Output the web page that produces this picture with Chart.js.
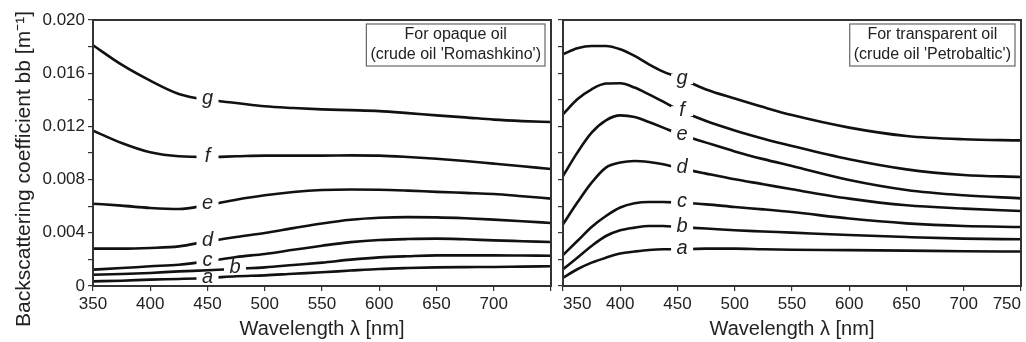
<!DOCTYPE html>
<html>
<head>
<meta charset="utf-8">
<script src="https://cdn.jsdelivr.net/npm/chart.js@4.4.0/dist/chart.umd.min.js"></script>
<style>
  html, body { margin: 0; padding: 0; background: #fff; overflow: hidden; width: 1026px; height: 342px; }
  #left-box { position: absolute; left: 0; top: 0; }
  #right-box { position: absolute; left: 540px; top: 0; }
</style>
</head>
<body>
<div id="left-box"><canvas id="chart-left" width="556" height="342"></canvas></div>
<div id="right-box"><canvas id="chart-right" width="496" height="342"></canvas></div>
<script>
//Curve names (bottom to top)
var curveNames = ['a', 'b', 'c', 'd', 'e', 'f', 'g'];

//Opaque oil - crude oil 'Romashkino'
var wlLeft = [350, 375, 400, 425, 450, 475, 500, 525, 550, 575, 600, 625, 650, 675, 700, 725, 750];
var left_a = [0.00035, 0.0004, 0.00048, 0.00053, 0.0006, 0.00073, 0.0008, 0.00092, 0.00103, 0.00116, 0.00128, 0.00135, 0.0014, 0.00142, 0.00143, 0.00146, 0.00148];
var left_b = [0.00085, 0.0009, 0.00098, 0.0011, 0.00118, 0.0013, 0.0014, 0.00158, 0.00176, 0.00198, 0.00215, 0.00224, 0.0023, 0.0023, 0.0023, 0.00229, 0.00228];
var left_c = [0.00123, 0.00135, 0.00148, 0.0016, 0.00185, 0.00218, 0.00241, 0.00272, 0.00303, 0.0033, 0.00346, 0.00353, 0.00356, 0.00351, 0.00343, 0.00337, 0.00331];
var left_d = [0.00281, 0.00281, 0.00286, 0.00298, 0.00336, 0.00369, 0.00399, 0.00435, 0.0047, 0.00498, 0.00513, 0.00518, 0.00516, 0.00509, 0.00499, 0.00487, 0.00474];
var left_e = [0.00619, 0.00604, 0.00587, 0.00579, 0.0061, 0.00649, 0.00682, 0.00707, 0.00722, 0.00726, 0.00724, 0.00717, 0.00708, 0.007, 0.00692, 0.00675, 0.00657];
var left_f = [0.01168, 0.01075, 0.01005, 0.00975, 0.0097, 0.00975, 0.0098, 0.0098, 0.0098, 0.00982, 0.0098, 0.0097, 0.00957, 0.0094, 0.0092, 0.009, 0.0088];
var left_g = [0.0181, 0.01664, 0.01544, 0.01444, 0.0140, 0.01376, 0.01351, 0.01338, 0.01328, 0.01322, 0.01315, 0.0130, 0.01283, 0.01268, 0.01251, 0.0124, 0.01233];
//Wavelength where each curve letter sits
var leftTagAt = [450, 474, 450, 450, 450, 450, 450];

//Transparent oil - crude oil 'Petrobaltic'
var wlRight = [350, 362.5, 375, 387.5, 400, 412.5, 425, 437.5, 450, 475, 500, 525, 550, 600, 650, 700, 750];
var right_a = [0.00063, 0.00126, 0.00176, 0.00213, 0.00244, 0.00259, 0.00271, 0.00276, 0.00276, 0.00281, 0.00281, 0.00276, 0.00273, 0.0027, 0.00266, 0.00261, 0.00259];
var right_b = [0.00126, 0.00213, 0.00301, 0.00376, 0.00419, 0.00439, 0.00451, 0.00451, 0.00444, 0.00432, 0.00419, 0.0041, 0.00401, 0.00383, 0.00368, 0.00356, 0.00351];
var right_c = [0.00233, 0.00338, 0.00444, 0.00526, 0.0059, 0.00622, 0.00632, 0.00632, 0.00627, 0.00614, 0.00594, 0.00576, 0.00556, 0.00507, 0.00471, 0.00451, 0.00444];
var right_d = [0.00464, 0.00627, 0.00777, 0.0089, 0.00928, 0.0094, 0.00932, 0.00915, 0.0089, 0.00845, 0.00802, 0.00765, 0.00727, 0.00657, 0.00607, 0.00582, 0.00564];
var right_e = [0.00827, 0.01003, 0.01153, 0.01246, 0.01283, 0.01271, 0.01233, 0.01191, 0.01146, 0.01078, 0.01012, 0.00954, 0.00902, 0.00797, 0.00722, 0.00682, 0.00659];
var right_f = [0.01291, 0.01404, 0.01479, 0.01522, 0.01524, 0.01492, 0.01441, 0.01386, 0.01329, 0.01241, 0.0117, 0.01108, 0.01053, 0.00953, 0.00877, 0.00835, 0.0082];
var right_g = [0.01742, 0.01787, 0.01805, 0.01805, 0.0178, 0.0173, 0.01667, 0.01612, 0.01571, 0.01478, 0.0141, 0.01345, 0.01285, 0.01191, 0.01128, 0.01103, 0.01095];
var rightTagAt = [454, 454, 454, 454, 454, 454, 454];

//Axis text
var xTitle = 'Wavelength \u03bb [nm]';
var yTitle = 'Backscattering coefficient bb [m\u207b\u00b9]';
var leftNote = ['For opaque oil', "(crude oil 'Romashkino')"];
var rightNote = ['For transparent oil', "(crude oil 'Petrobaltic')"];

var FONT = "'Liberation Sans', Arial, sans-serif";
var INK = '#222';

function makeSets(wl, series) {
  return series.map(function(vals, i) {
    return {
      label: curveNames[i],
      data: wl.map(function(x, k) { return {x: x, y: vals[k]}; }),
      borderColor: '#111',
      borderWidth: 2.6,
      pointRadius: 0,
      fill: false,
      cubicInterpolationMode: 'monotone'
    };
  });
}

//Frame round the plot area
var framePlugin = {
  id: 'frame',
  afterDraw: function(chart) {
    var a = chart.chartArea;
    var ctx = chart.ctx;
    ctx.save();
    ctx.strokeStyle = '#333';
    ctx.lineWidth = 2;
    ctx.strokeRect(a.left, a.top, a.right - a.left, a.bottom - a.top);
    ctx.restore();
  }
};

//Note box in the top right corner
var notePlugin = {
  id: 'noteBox',
  afterDraw: function(chart, args, opts) {
    var ctx = chart.ctx;
    var a = chart.chartArea;
    ctx.save();
    ctx.font = '16px ' + FONT;
    var w = 0;
    opts.lines.forEach(function(t) { w = Math.max(w, ctx.measureText(t).width); });
    w += 8;
    var h = 42;
    var x0 = a.right - 6 - w;
    var y0 = a.top + 4;
    ctx.fillStyle = '#fff';
    ctx.fillRect(x0, y0, w, h);
    ctx.strokeStyle = '#666';
    ctx.lineWidth = 1.2;
    ctx.strokeRect(x0, y0, w, h);
    ctx.fillStyle = INK;
    ctx.textAlign = 'center';
    ctx.textBaseline = 'middle';
    opts.lines.forEach(function(t, i) {
      ctx.fillText(t, x0 + w / 2, y0 + 11 + i * 20);
    });
    ctx.restore();
  }
};

//Italic curve letters sitting in a gap of each line
var tagPlugin = {
  id: 'curveTags',
  afterDatasetsDraw: function(chart, args, opts) {
    var ctx = chart.ctx;
    var xs = chart.scales.x, ys = chart.scales.y;
    ctx.save();
    ctx.font = 'italic 20px ' + FONT;
    ctx.textAlign = 'center';
    ctx.textBaseline = 'middle';
    chart.data.datasets.forEach(function(ds, i) {
      var at = opts.at[i];
      var pts = ds.data;
      var v = pts[0].y;
      for (var k = 0; k < pts.length - 1; k++) {
        if (at >= pts[k].x && at <= pts[k + 1].x) {
          var t = (at - pts[k].x) / (pts[k + 1].x - pts[k].x);
          v = pts[k].y + t * (pts[k + 1].y - pts[k].y);
          break;
        }
      }
      var px = xs.getPixelForValue(at);
      var py = ys.getPixelForValue(v);
      ctx.fillStyle = '#fff';
      ctx.fillRect(px - 11, py - 5, 22, 10);
      ctx.fillStyle = INK;
      ctx.fillText(ds.label, px, py - 1);
    });
    ctx.restore();
  }
};

//Rotated y title (left panel only)
var yTitlePlugin = {
  id: 'yTitle',
  afterDraw: function(chart, args, opts) {
    if (!opts.text) return;
    var ctx = chart.ctx;
    ctx.save();
    ctx.translate(24, 169);
    ctx.rotate(-Math.PI / 2);
    ctx.font = '21px ' + FONT;
    ctx.fillStyle = INK;
    ctx.textAlign = 'center';
    ctx.textBaseline = 'middle';
    ctx.fillText(opts.text, 0, 0);
    ctx.restore();
  }
};

function makeOptions(isLeft) {
  return {
    responsive: false,
    animation: false,
    layout: { padding: { top: 20, right: isLeft ? 5 : 15, left: 0, bottom: 0 } },
    plugins: {
      legend: { display: false },
      tooltip: { enabled: false },
      noteBox: { lines: isLeft ? leftNote : rightNote },
      curveTags: { at: isLeft ? leftTagAt : rightTagAt },
      yTitle: { text: isLeft ? yTitle : '' }
    },
    scales: {
      x: {
        type: 'linear',
        min: 350,
        max: 750,
        afterFit: function(scale) { scale.height = 56; },
        grid: { drawOnChartArea: false, drawTicks: true, tickLength: 5, color: '#333', lineWidth: 1.2 },
        border: { display: false },
        ticks: {
          stepSize: 50,
          maxRotation: 0,
          autoSkip: false,
          align: isLeft ? 'center' : 'inner',
          padding: 3,
          color: INK,
          font: { family: FONT, size: 17 },
          callback: function(value) {
            if (isLeft && value === 750) return '';
            return value;
          }
        },
        title: {
          display: true,
          text: xTitle,
          color: INK,
          font: { family: FONT, size: 20 },
          padding: { top: 1, bottom: 1 }
        }
      },
      y: {
        min: 0,
        max: 0.020,
        afterFit: function(scale) { scale.width = isLeft ? 93 : 23; },
        grid: { drawOnChartArea: false, drawTicks: true, tickLength: 5, color: '#333', lineWidth: 1.2 },
        border: { display: false },
        ticks: {
          stepSize: 0.002,
          autoSkip: false,
          padding: 3,
          color: INK,
          font: { family: FONT, size: 17 },
          callback: function(value, index) {
            if (!isLeft || index % 2 !== 0) return '';
            return value === 0 ? '0' : value.toFixed(3);
          }
        }
      }
    }
  };
}

var plugins = [framePlugin, notePlugin, tagPlugin, yTitlePlugin];

var leftChart = new Chart(document.getElementById('chart-left'), {
  type: 'line',
  data: { datasets: makeSets(wlLeft, [left_a, left_b, left_c, left_d, left_e, left_f, left_g]) },
  options: makeOptions(true),
  plugins: plugins
});

var rightChart = new Chart(document.getElementById('chart-right'), {
  type: 'line',
  data: { datasets: makeSets(wlRight, [right_a, right_b, right_c, right_d, right_e, right_f, right_g]) },
  options: makeOptions(false),
  plugins: plugins
});
</script>
</body>
</html>
